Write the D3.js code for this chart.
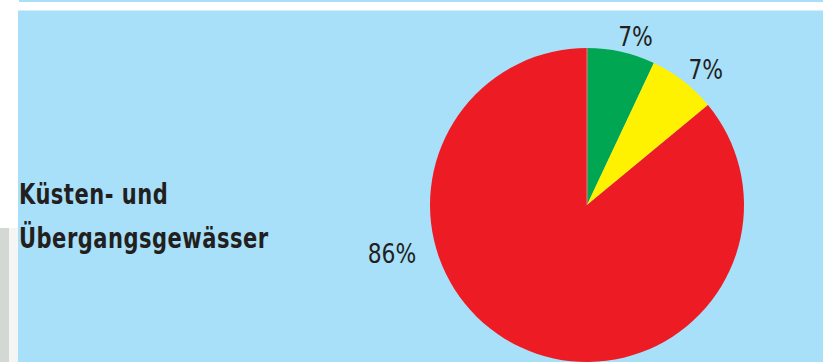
<!DOCTYPE html>
<html>
<head>
<meta charset="utf-8">
<script src="https://cdn.jsdelivr.net/npm/d3@7/dist/d3.min.js"></script>
<style>
  html, body { margin: 0; padding: 0; background: #ffffff; }
  svg { display: block; }
</style>
</head>
<body>
<svg id="chart" width="823" height="362"></svg>
<script>
// Zustand der Küsten- und Übergangsgewässer (Anteile in Prozent)
const categories = ["gut", "mäßig", "schlecht"];
const shares = [7, 7, 86];
const sliceColors = ["#00a651", "#fff200", "#ed1c24"];
const titleLines = ["Küsten- und", "Übergangsgewässer"];

const W = 823, H = 362;
const svg = d3.select("#chart");
const condensed = "'DejaVu Sans Condensed', 'Liberation Sans Narrow', sans-serif";

// panel background and frame strips
svg.append("rect").attr("x", 0).attr("y", 0).attr("width", W).attr("height", H).attr("fill", "#ffffff");
svg.append("rect").attr("x", 19).attr("y", 0).attr("width", W - 19).attr("height", 2).attr("fill", "#a8e0f9");
svg.append("rect").attr("x", 0).attr("y", 228).attr("width", 9).attr("height", H - 228).attr("fill", "#d3d8d5");
svg.append("rect").attr("x", 9).attr("y", 228).attr("width", 9).attr("height", H - 228).attr("fill", "#f5f5f5");
svg.append("rect").attr("x", 18).attr("y", 10).attr("width", W - 18).attr("height", 1).attr("fill", "#d4eefb");
svg.append("rect").attr("x", 18).attr("y", 11).attr("width", W - 18).attr("height", H - 11).attr("fill", "#a8e0f9");

// title, horizontally compressed to a condensed face
const title = svg.append("text")
  .attr("transform", "translate(19,204) scale(0.835,1)")
  .attr("font-family", condensed)
  .attr("font-weight", "bold")
  .attr("font-size", 28)
  .attr("letter-spacing", 0.6)
  .attr("fill", "#231f20");
title.selectAll("tspan").data(titleLines).join("tspan")
  .attr("x", 0)
  .attr("dy", (d, i) => i === 0 ? 0 : 44)
  .text(d => d);

// pie
const cx = 587, cy = 205, r = 157;
const pie = d3.pie().sort(null).value(d => d)(shares);
const arc = d3.arc().innerRadius(0).outerRadius(r);
const g = svg.append("g").attr("transform", `translate(${cx},${cy})`);
g.selectAll("path").data(pie).join("path")
  .attr("d", arc)
  .attr("fill", (d, i) => sliceColors[i]);

// thin light seam along the 12 o'clock edge
g.append("line")
  .attr("x1", 0).attr("y1", 0).attr("x2", 0).attr("y2", -r)
  .attr("stroke", "#f07a80").attr("stroke-width", 1);

// percentage labels placed around the rim
const labelPlacement = [
  { dAngle: 3.5, radius: 175 },
  { dAngle: 3.5, radius: 180 },
  { angle: 256, radius: 201 }
];
g.selectAll("text.pct").data(pie).join("text")
  .attr("class", "pct")
  .attr("transform", (d, i) => {
    const p = labelPlacement[i];
    const deg = p.angle !== undefined ? p.angle : ((d.startAngle + d.endAngle) / 2) * 180 / Math.PI + p.dAngle;
    const a = deg * Math.PI / 180;
    return `translate(${p.radius * Math.sin(a)},${-p.radius * Math.cos(a)}) scale(0.9,1)`;
  })
  .attr("text-anchor", "middle")
  .attr("dominant-baseline", "central")
  .attr("font-family", condensed)
  .attr("font-size", 27)
  .attr("fill", "#231f20")
  .text(d => d.data + "%");
</script>
</body>
</html>
